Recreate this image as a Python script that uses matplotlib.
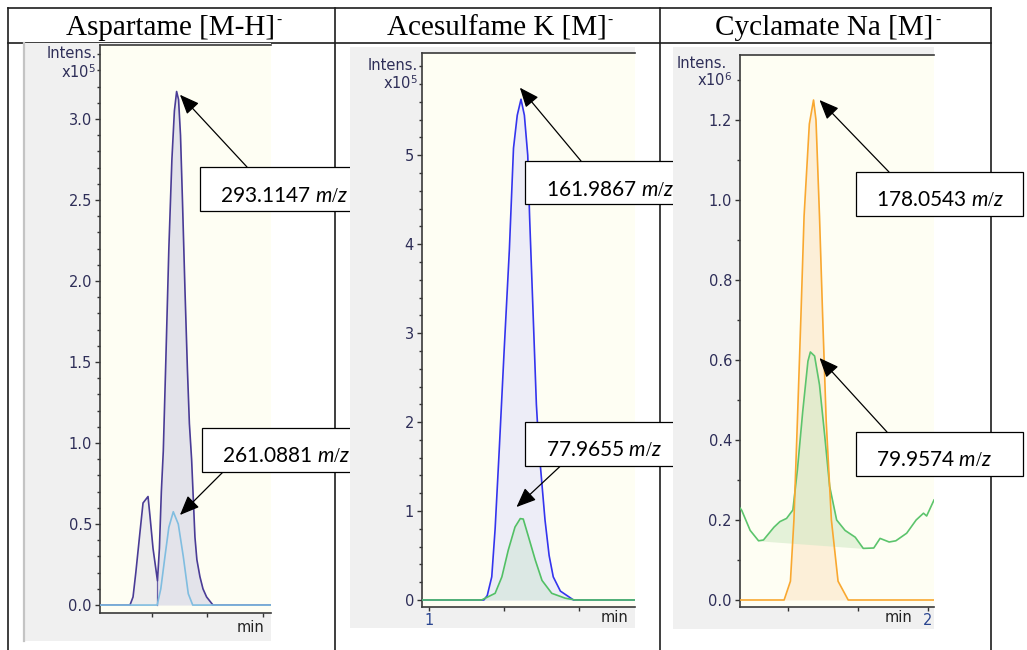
import numpy as np
import matplotlib
matplotlib.use("Agg")
import matplotlib.pyplot as plt
from matplotlib.patches import Rectangle
from matplotlib.lines import Line2D
from matplotlib import transforms
from matplotlib.ticker import MultipleLocator, FixedLocator, FormatStrFormatter, FixedFormatter

plt.rcParams['font.family'] = ['DejaVu Sans']
plt.rcParams['mathtext.fontset'] = 'custom'
plt.rcParams['mathtext.rm'] = 'Liberation Serif'
plt.rcParams['mathtext.it'] = 'Lato:italic'
plt.rcParams['mathtext.sf'] = 'DejaVu Sans'

W, H = 1027, 650

# ---------------- data (time in min, intensity in scaled units) ----------------
titles = ["Aspartame [M-H]", "Acesulfame K [M]", "Cyclamate Na [M]"]
scale_labels = ["5", "5", "6"]

# Aspartame 293.1147 m/z (purple trace, two integrated regions)
asp_293_t = [1.013, 1.121, 1.132, 1.142, 1.157, 1.168, 1.177, 1.186, 1.193, 1.204, 1.220,
             1.227, 1.234, 1.241, 1.250, 1.261, 1.272, 1.281, 1.289, 1.296, 1.303, 1.310,
             1.319, 1.328, 1.335, 1.343, 1.350, 1.355, 1.362, 1.373, 1.384, 1.397, 1.420, 1.629]
asp_293_i = [0.0, 0.0, 0.05, 0.2, 0.45, 0.63, 0.65, 0.67, 0.55, 0.35, 0.15,
             0.35, 0.7, 0.95, 1.5, 2.2, 2.75, 3.05, 3.17, 3.12, 2.9, 2.5,
             1.95, 1.45, 1.12, 0.9, 0.62, 0.42, 0.28, 0.175, 0.1, 0.05, 0.0, 0.0]
asp_split_t = 1.220
# Aspartame 261.0881 m/z (light blue)
asp_261_t = [1.013, 1.219, 1.232, 1.247, 1.261, 1.277, 1.295, 1.313, 1.331, 1.347, 1.629]
asp_261_i = [0.0, 0.0, 0.1, 0.3, 0.48, 0.576, 0.5, 0.3, 0.07, 0.0, 0.0]

# Acesulfame K 161.9867 m/z (blue)
ace_162_t = [0.981, 1.146, 1.155, 1.167, 1.176, 1.187, 1.200, 1.214, 1.225, 1.235, 1.245,
             1.254, 1.263, 1.268, 1.276, 1.286, 1.293, 1.309, 1.320, 1.331, 1.350, 1.371,
             1.385, 1.549]
ace_162_i = [0.0, 0.0, 0.05, 0.26, 0.8, 1.69, 2.8, 3.94, 5.08, 5.45, 5.63,
             5.45, 5.0, 4.3, 3.37, 2.2, 1.69, 0.9, 0.5, 0.26, 0.1, 0.04,
             0.0, 0.0]
# Acesulfame K 77.9655 m/z (green)
ace_78_t = [0.981, 1.140, 1.176, 1.194, 1.211, 1.229, 1.243, 1.251, 1.265, 1.283, 1.301,
            1.327, 1.363, 1.389, 1.549]
ace_78_i = [0.0, 0.0, 0.075, 0.26, 0.56, 0.82, 0.915, 0.91, 0.71, 0.45, 0.22,
            0.075, 0.02, 0.0, 0.0]

# Cyclamate Na 178.0543 m/z (orange)
cyc_178_t = [1.463, 1.589, 1.607, 1.617, 1.627, 1.637, 1.646, 1.661, 1.673, 1.680, 1.690,
             1.699, 1.709, 1.724, 1.743, 1.772, 2.017]
cyc_178_i = [0.0, 0.0, 0.047, 0.2, 0.45, 0.71, 0.96, 1.19, 1.25, 1.2, 0.96,
             0.71, 0.45, 0.2, 0.047, 0.0, 0.0]
# Cyclamate Na 79.9574 m/z (green, noisy baseline)
cyc_80_t = [1.463, 1.468, 1.492, 1.516, 1.530, 1.560, 1.577, 1.596, 1.614, 1.627, 1.642,
            1.657, 1.664, 1.676, 1.690, 1.705, 1.719, 1.739, 1.763, 1.792, 1.815, 1.845,
            1.863, 1.889, 1.908, 1.939, 1.966, 1.987, 1.996, 2.017]
cyc_80_i = [0.23, 0.224, 0.174, 0.148, 0.15, 0.182, 0.196, 0.204, 0.225, 0.326, 0.47,
            0.597, 0.62, 0.61, 0.538, 0.41, 0.284, 0.2, 0.174, 0.157, 0.129, 0.13,
            0.154, 0.145, 0.148, 0.167, 0.2, 0.217, 0.21, 0.25]
cyc_80_fill = (1.516, 1.815)

mz_labels = [["293.1147", "261.0881"], ["161.9867", "77.9655"], ["178.0543", "79.9574"]]

# ---------------- figure ----------------
fig = plt.figure(figsize=(W / 100, H / 100), dpi=100)
fig.patch.set_facecolor('white')
PX = transforms.Affine2D().scale(1.0 / W, 1.0 / H) + fig.transFigure
renderer = fig.canvas.get_renderer()


def py(y):
    return H - y


def add_axes_px(x0, y0, x1, y1, z):
    ax = fig.add_axes([x0 / W, 1 - y1 / H, (x1 - x0) / W, (y1 - y0) / H])
    ax.set_zorder(z)
    return ax


def fig_rect(x0, y0, x1, y1, z, **kw):
    r = Rectangle((x0, py(y1)), x1 - x0, y1 - y0, transform=PX, zorder=z, **kw)
    fig.add_artist(r)
    return r


# table lines
tcol = '#1e1e1e'
tlw = 1.2
for (xa, ya, xb, yb) in [(8, 8, 991, 8), (8, 43, 991, 43),
                         (8, 8, 8, 650), (335, 8, 335, 650), (660, 8, 660, 650), (991, 8, 991, 650)]:
    fig.add_artist(Line2D([xa, xb], [py(ya), py(yb)], transform=PX, color=tcol, lw=tlw, zorder=0.5))

# titles with small superscript dash
cell_centers = [170.0, 496.5, 824.5]
for c, ttl in zip(cell_centers, titles):
    tx = fig.text(c / W, py(35) / H, ttl, fontfamily='Liberation Serif', fontsize=21,
                  ha='center', va='baseline', zorder=0.6)
    bb = tx.get_window_extent(renderer)
    fig.text((bb.x1 + 1.5) / W, py(20) / H, '-', fontfamily='Liberation Serif', fontsize=11,
             ha='left', va='center', zorder=0.6)

panels = [
    dict(gray=(23, 43, 271, 641), axes=(100, 45, 271, 613), xlim=(1.013, 1.629), ylim=(-0.049, 3.457),
         xt=[1.2, 1.4, 1.6], xtl=['', '', ''], major=0.5, minor=0.1, fmt='%.1f', ymaxlab=3.0,
         intens=(97, 53), scale=(96, 72), minlab=(251, 627), z=1),
    dict(gray=(350, 47, 635, 628), axes=(422, 53, 635, 607), xlim=(0.981, 1.549), ylim=(-0.079, 6.15),
         xt=[1.0, 1.2, 1.4], xtl=['1', '', ''], major=1.0, minor=0.2, fmt='%d', ymaxlab=5.0,
         intens=(418, 65), scale=(418, 83), minlab=(615, 618), z=3),
    dict(gray=(673, 47, 934, 629), axes=(740, 55, 934, 607), xlim=(1.463, 2.017), ylim=(-0.0175, 1.3625),
         xt=[1.6, 1.8, 2.0], xtl=['', '', '2'], major=0.2, minor=0.1, fmt='%.1f', ymaxlab=1.2,
         intens=(727, 64), scale=(732, 80), minlab=(898, 618), z=5),
]

lab_col = '#2e2e58'
fs_lab = 10.5
axes = []
for idx, p in enumerate(panels):
    g = p['gray']
    fig_rect(*g, p['z'], facecolor='#f0f0f0', edgecolor='none')
    ax = add_axes_px(*p['axes'], p['z'] + 1)
    ax.set_facecolor('#fefef3')
    ax.set_xlim(*p['xlim'])
    ax.set_ylim(*p['ylim'])
    for s in ['left', 'bottom', 'top']:
        ax.spines[s].set_color('#3a3a3a')
        ax.spines[s].set_linewidth(1.2)
    ax.spines['right'].set_visible(False)
    ax.xaxis.set_major_locator(FixedLocator(p['xt']))
    ax.xaxis.set_major_formatter(FixedFormatter(p['xtl']))
    ymaj = np.arange(0, p['ymaxlab'] + 1e-9, p['major'])
    ax.yaxis.set_major_locator(FixedLocator(ymaj))
    ax.yaxis.set_major_formatter(FormatStrFormatter(p['fmt']))
    ax.yaxis.set_minor_locator(MultipleLocator(p['minor']))
    ax.tick_params(axis='y', which='major', direction='out', length=3.8, width=1.0, color='#333333',
                   labelsize=fs_lab, labelcolor=lab_col, pad=2.0)
    ax.tick_params(axis='y', which='minor', direction='out', length=2.4, width=1.0, color='#333333')
    ax.tick_params(axis='x', which='major', direction='out', length=3.0, width=1.0, color='#333333',
                   labelsize=fs_lab, labelcolor='#2a4590', pad=1.0)
    ax.text(p['intens'][0], py(p['intens'][1]), 'Intens.', transform=PX, ha='right', va='center',
            fontsize=fs_lab, color=lab_col, clip_on=False)
    ax.text(p['scale'][0], py(p['scale'][1]), 'x10$^{\\mathsf{' + scale_labels[idx] + '}}$',
            transform=PX, ha='right', va='center', fontsize=fs_lab, color=lab_col, clip_on=False)
    ax.text(p['minlab'][0], py(p['minlab'][1]), 'min', transform=PX, ha='center', va='center',
            fontsize=fs_lab, color='#222222', clip_on=False)
    axes.append(ax)

# panel 1 left gray edge
fig.add_artist(Line2D([24, 24], [py(43), py(641)], transform=PX, color='#c4c4c4', lw=1.6, zorder=1.1))


def annotate_box(ax, label, tip, tail, box):
    x0, y0, x1, y1 = box
    r = Rectangle((x0, py(y1)), x1 - x0, y1 - y0, transform=PX, facecolor='white',
                  edgecolor='black', lw=0.9, clip_on=False, zorder=10)
    ax.add_artist(r)
    ax.text(x0 + 20.5, py(y0 + 34.5), label + r" $\mathit{m/z}$", transform=PX, fontfamily='Lato',
            fontsize=15, ha='left', va='baseline', zorder=11, clip_on=False)
    ax.annotate('', xy=tip, xycoords='data', xytext=(tail[0], py(tail[1])), textcoords=PX,
                arrowprops=dict(arrowstyle='-|>,head_length=1.2,head_width=0.5', color='black',
                                lw=0.9, shrinkA=0, shrinkB=0, mutation_scale=10),
                annotation_clip=False, zorder=9)


def peak(t, v):
    k = int(np.argmax(v))
    return t[k], v[k]

# ---------- panel 1 ----------
ax = axes[0]
t = np.array(asp_293_t); v = np.array(asp_293_i)
lm = t <= asp_split_t
rm = t >= asp_split_t
ax.fill_between(t[lm], v[lm], 0, color='#ededed', lw=0, zorder=1)
ax.fill_between(t[rm], v[rm], 0, color='#e3e3ea', lw=0, zorder=1)
sv = np.interp(asp_split_t, t, v)
ax.plot([asp_split_t, asp_split_t], [0, sv], color='#6a60a8', lw=0.9, zorder=2)
ax.plot(t, v, color='#4a3c96', lw=1.2, zorder=3)
t2 = np.array(asp_261_t); v2 = np.array(asp_261_i)
ax.plot(t2, v2, color='#80bde0', lw=1.2, zorder=4)
pt, pv = peak(t, v)
annotate_box(ax, mz_labels[0][0], (pt + 0.012, pv - 0.02), (247, 167), (200, 167, 372, 211))
pt, pv = peak(t2, v2)
annotate_box(ax, mz_labels[0][1], (pt + 0.024, pv - 0.02), (223, 472), (202, 428, 372, 472))

# ---------- panel 2 ----------
ax = axes[1]
t = np.array(ace_162_t); v = np.array(ace_162_i)
t2 = np.array(ace_78_t); v2 = np.array(ace_78_i)
ax.fill_between(t, v, 0, color='#ededf7', lw=0, zorder=1)
ax.fill_between(t2, v2, 0, color='#dce8e4', lw=0, zorder=2)
ax.plot(t, v, color='#3434ee', lw=1.2, zorder=3)
ax.plot(t2, v2, color='#52c065', lw=1.2, zorder=4)
pt, pv = peak(t, v)
annotate_box(ax, mz_labels[1][0], (pt - 0.003, pv + 0.13), (581, 161), (525, 161, 700, 204))
pt, pv = peak(t2, v2)
annotate_box(ax, mz_labels[1][1], (pt - 0.01, pv + 0.13), (561, 465.5), (525, 422, 700, 465.5))

# ---------- panel 3 ----------
ax = axes[2]
t = np.array(cyc_178_t); v = np.array(cyc_178_i)
t2 = np.array(cyc_80_t); v2 = np.array(cyc_80_i)
ax.fill_between(t, v, 0, where=v > 0, interpolate=True, color='#fcefd8', lw=0, zorder=1)
fa, fb = cyc_80_fill
m = (t2 >= fa) & (t2 <= fb)
base = np.interp(t2[m], [fa, fb], [np.interp(fa, t2, v2), np.interp(fb, t2, v2)])
ax.fill_between(t2[m], v2[m], base, color='#cfe9c4', alpha=0.55, lw=0, zorder=2)
ax.plot(t2, v2, color='#5cc46c', lw=1.2, zorder=3)
ax.plot(t, v, color='#f9a830', lw=1.2, zorder=4)
pt, pv = peak(t, v)
annotate_box(ax, mz_labels[2][0], (pt + 0.017, pv), (889, 172), (856, 172, 1023, 215.5))
pt, pv = peak(t2, v2)
annotate_box(ax, mz_labels[2][1], (pt + 0.026, pv - 0.015), (887, 432), (856, 432, 1023, 476))

fig.savefig('out.png', dpi=100)
